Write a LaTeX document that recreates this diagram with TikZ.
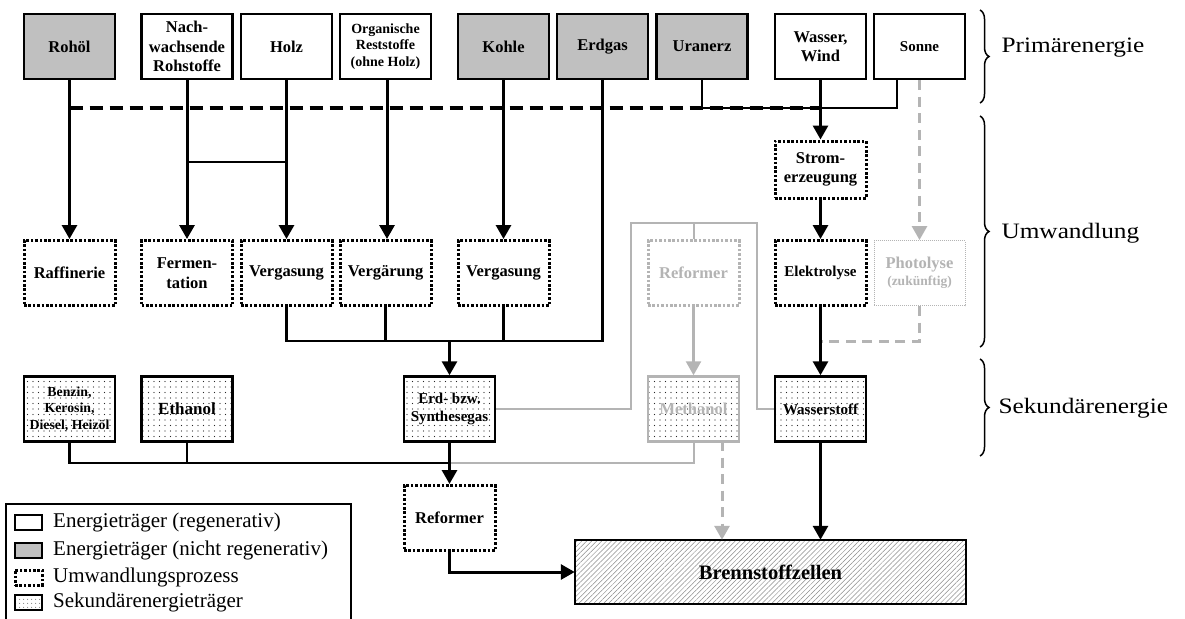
\documentclass[tikz,border=0pt]{standalone}
\usepackage{fontspec}
\setmainfont{Liberation Serif}
\newfontfamily\widefont[FakeStretch=1.15]{Liberation Serif}
\usetikzlibrary{arrows.meta,patterns.meta,decorations.pathreplacing}
\definecolor{boxgray}{HTML}{C0C0C0}
\definecolor{lgray}{HTML}{B4B4B4}
\begin{document}
\begin{tikzpicture}[x=1pt,y=-1pt,
  box/.style={draw, line width=2.5pt, minimum width=91pt, minimum height=65pt, align=center, inner sep=1pt, font=\bfseries\fontsize{16.5}{19.5}\selectfont},
  ren/.style={box, fill=white},
  nren/.style={box, fill=boxgray},
  proc/.style={box, line width=3pt, dash pattern=on 2.6pt off 1.8pt},
  gproc/.style={proc, draw=lgray, text=lgray},
  sek/.style={box, pattern={Dots[distance=5.5pt,radius=0.7pt]}, pattern color=black!85},
  gsek/.style={sek, draw=lgray, text=lgray},
  arr/.style={line width=3pt, -{Triangle[width=15pt,length=14pt]}},
  ln/.style={line width=2.2pt},
  garr/.style={draw=lgray, line width=2.5pt, -{Triangle[width=15pt,length=14pt,fill=lgray]}},
  gln/.style={draw=lgray, line width=2pt},
  gdash/.style={draw=lgray, line width=3pt, dash pattern=on 10pt off 6.5pt},
  dashline/.style={line width=3.5pt, dash pattern=on 13pt off 7pt},
  bracest/.style={line width=1.5pt, decorate, decoration={brace, amplitude=9pt}},
  lab/.style={anchor=west, font=\widefont\fontsize{22}{22}\selectfont},
  legicon/.style={draw, line width=2.5pt, minimum width=27pt, minimum height=15pt, inner sep=0pt},
  legtext/.style={anchor=west, inner sep=0pt, font=\fontsize{21}{21}\selectfont}
]
\useasboundingbox (0,0) rectangle (1185,618);
\fill[white] (0,0) rectangle (1185,618);

% primary energy
\node[nren] (rohoel) at (69.5,46.5) {Rohöl};
\node[ren] (nach) at (187,46.5) {Nach-\\wachsende\\Rohstoffe};
\node[ren] (holz) at (286.5,46.5) {Holz};
\node[ren, font=\bfseries\fontsize{14}{16.5}\selectfont] (org) at (385.5,46.5) {Organische\\Reststoffe\\(ohne Holz)};
\node[nren] (kohle) at (503.5,46.5) {Kohle};
\node[nren] (erdgas) at (602.5,46.5) {Erdgas};
\node[nren] (uran) at (702,46.5) {Uranerz};
\node[ren] (wasser) at (820.5,46.5) {Wasser,\\Wind};
\node[ren, font=\bfseries\fontsize{15}{18}\selectfont] (sonne) at (919.5,46.5) {Sonne};

% conversion
\node[proc, minimum height=57pt] (strom) at (820.5,169.5) {Strom-\\erzeugung};
\node[proc] (raff) at (69.5,273) {Raffinerie};
\node[proc] (ferm) at (187,273) {Fermen-\\tation};
\node[proc] (verg1) at (286.5,273) {Vergasung};
\node[proc] (vergaer) at (385.5,273) {Vergärung};
\node[proc] (verg2) at (503.5,273) {Vergasung};
\node[gproc] (refg) at (693.5,273) {Reformer};
\node[proc, font=\bfseries\fontsize{15}{18}\selectfont] (elek) at (820.5,273) {Elektrolyse};
\node[box, draw=lgray, line width=1pt, dash pattern=on 1pt off 1pt, text=lgray] (photo) at (919.5,273) {Photolyse\\[-2pt]{\fontsize{13.5}{15}\selectfont (zukünftig)}};

% secondary energy
\node[sek, font=\bfseries\fontsize{13.8}{16.5}\selectfont] (benzin) at (69.5,409) {Benzin,\\Kerosin,\\Diesel, Heizöl};
\node[sek, font=\bfseries\fontsize{17}{19}\selectfont] (ethanol) at (187,409) {Ethanol};
\node[sek, font=\bfseries\fontsize{15}{18}\selectfont] (synth) at (449.5,409) {Erd- bzw.\\Synthesegas};
\node[gsek] (meth) at (693.5,409) {Methanol};
\node[sek, font=\bfseries\fontsize{15}{18}\selectfont] (wst) at (820.5,409) {Wasserstoff};

\node[proc] (ref2) at (449.5,518) {Reformer};
\node[box, minimum width=391pt, minimum height=64pt, pattern={Lines[angle=45,distance=3.5pt,line width=0.5pt]}, pattern color=black!45, font=\bfseries\fontsize{20.5}{24}\selectfont] (bz) at (770.5,572) {Brennstoffzellen};

% helper coordinates
\coordinate (sonneL) at (897,79);
\coordinate (gA) at (631,223);
\coordinate (gB) at (757,223);
\coordinate (methR) at (722,441);

% gray connectors
\draw[gln] (synth.east) -| (gA) -| (gB) |- (wst.west);
\draw[gln] (refg.north) -- (refg.north |- gA);
\draw[garr] (refg) -- (meth);
\draw[gln] (meth.south) |- (synth.south |- 0,463);
\draw[gdash, -{Triangle[width=15pt,length=14pt,fill=lgray]}] (methR) -- (methR |- bz.north);
\draw[gdash, -{Triangle[width=15pt,length=14pt,fill=lgray]}] (sonne) -- (photo);
\draw[gdash] (photo.south) |- (elek.south |- 0,341);

% black connectors
\draw[dashline] (rohoel.south |- 0,108) -- (wasser.south |- 0,108);
\draw[arr] (rohoel) -- (raff);
\draw[arr] (nach) -- (ferm);
\draw[arr] (holz) -- (verg1);
\draw[arr] (org.south -| 387,0) -- (vergaer.north -| 387,0);
\draw[arr] (kohle) -- (verg2);
\draw[ln] (nach.south |- 0,162) -- (holz.south |- 0,162);
\draw[ln] (uran.south) |- (sonneL |- 0,108) -- (sonneL);
\draw[arr] (wasser) -- (strom);
\draw[arr] (strom) -- (elek);
\draw[arr] (elek) -- (wst);
\draw[arr] (wst.south) -- (wst.south |- bz.north);
\draw[ln] (erdgas.south) |- (verg1.south |- 0,341) -- (verg1.south);
\draw[ln] (vergaer.south) -- (vergaer.south |- 0,341);
\draw[ln] (verg2.south) -- (verg2.south |- 0,341);
\draw[arr] (synth.north |- 0,341) -- (synth.north);
\draw[ln] (benzin.south) |- (synth.south |- 0,463);
\draw[ln] (ethanol.south) -- (ethanol.south |- 0,463);
\draw[arr] (synth) -- (ref2);
\draw[arr] (ref2.south) |- (bz.west);

% braces and labels
\coordinate (b1a) at (980,10);  \coordinate (b1b) at (980,103);
\coordinate (b2a) at (980,116); \coordinate (b2b) at (980,347);
\coordinate (b3a) at (980,359); \coordinate (b3b) at (980,456);
\draw[bracest] (b1a) -- (b1b);
\draw[bracest] (b2a) -- (b2b);
\draw[bracest] (b3a) -- (b3b);
\node[lab] (l1) at (998,48) {Primärenergie};
\node[lab] (l2) at (998,233) {Umwandlung};
\node[lab] (l3) at (995,408) {Sekundärenergie};

% legend
\node[draw, line width=2pt, minimum width=345pt, minimum height=120pt, anchor=north west] (leg) at (5,503) {};
\node[legicon, fill=white] (i1) at (28.5,522.5) {};
\node[legicon, fill=boxgray] (i2) at (28.5,550.5) {};
\node[legicon, line width=3pt, dash pattern=on 2.6pt off 1.8pt] (i3) at (28.5,577.5) {};
\node[legicon, line width=2pt, pattern={Dots[distance=4pt,radius=0.55pt]}, pattern color=black!75] (i4) at (28.5,602.5) {};
\node[legtext] (t1) at (53,522.5) {Energieträger (regenerativ)};
\node[legtext] (t2) at (53,550.5) {Energieträger (nicht regenerativ)};
\node[legtext] (t3) at (53,577.5) {Umwandlungsprozess};
\node[legtext] (t4) at (53,602.5) {Sekundärenergieträger};
\end{tikzpicture}
\end{document}
